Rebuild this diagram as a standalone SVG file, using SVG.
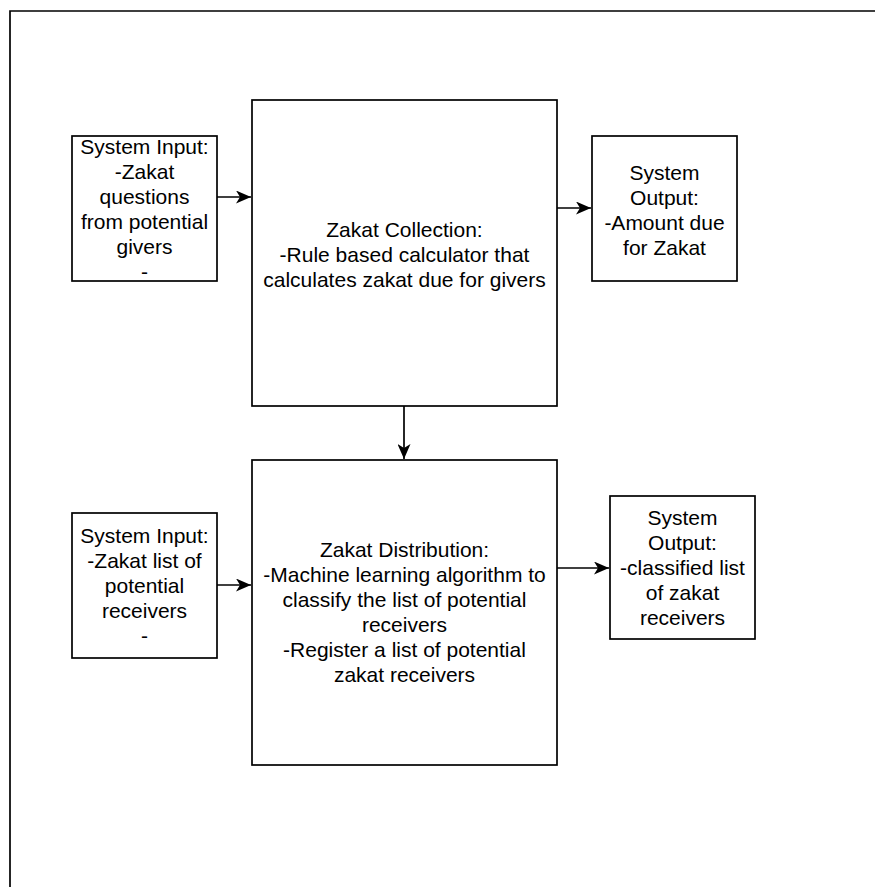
<svg xmlns="http://www.w3.org/2000/svg" width="875" height="887" viewBox="0 0 875 887">
<defs>
<style>
.box{fill:#fff;stroke:#000;stroke-width:1.7}
.frame{fill:none;stroke:#000;stroke-width:1.7}
.edge{fill:none;stroke:#000;stroke-width:1.7}
text{font-family:"Liberation Sans",Arial,sans-serif;font-size:21px;fill:#000;text-anchor:middle}
</style>
<marker id="arr" markerUnits="userSpaceOnUse" viewBox="0 0 15 13" refX="15" refY="6.5" markerWidth="15" markerHeight="13" orient="auto">
<path d="M0,0 L15,6.5 L0,13 L4,6.5 Z" fill="#000"/>
</marker>
</defs>
<rect width="875" height="887" fill="#fff"/>
<path class="frame" d="M10,900 V11 H900"/>
<g id="input1">
<rect class="box" x="72" y="136" width="145" height="145"/>
<text x="144.5" y="154">System Input:</text>
<text x="144.5" y="179">-Zakat</text>
<text x="144.5" y="204">questions</text>
<text x="144.5" y="229">from potential</text>
<text x="144.5" y="254">givers</text>
<text x="144.5" y="279">-</text>
</g>
<g id="collection">
<rect class="box" x="252" y="100" width="305" height="306"/>
<text x="404.5" y="237">Zakat Collection:</text>
<text x="404.5" y="262">-Rule based calculator that</text>
<text x="404.5" y="287">calculates zakat due for givers</text>
</g>
<g id="output1">
<rect class="box" x="592" y="136" width="145" height="145"/>
<text x="664.5" y="180">System</text>
<text x="664.5" y="205">Output:</text>
<text x="664.5" y="230">-Amount due</text>
<text x="664.5" y="255">for Zakat</text>
</g>
<g id="input2">
<rect class="box" x="72" y="513" width="145" height="145"/>
<text x="144.5" y="543">System Input:</text>
<text x="144.5" y="568">-Zakat list of</text>
<text x="144.5" y="593">potential</text>
<text x="144.5" y="618">receivers</text>
<text x="144.5" y="643">-</text>
</g>
<g id="distribution">
<rect class="box" x="252" y="460" width="305" height="305"/>
<text x="404.5" y="557">Zakat Distribution:</text>
<text x="404.5" y="582">-Machine learning algorithm to</text>
<text x="404.5" y="607">classify the list of potential</text>
<text x="404.5" y="632">receivers</text>
<text x="404.5" y="657">-Register a list of potential</text>
<text x="404.5" y="682">zakat receivers</text>
</g>
<g id="output2">
<rect class="box" x="610" y="496" width="145" height="143"/>
<text x="682.5" y="525">System</text>
<text x="682.5" y="550">Output:</text>
<text x="682.5" y="575">-classified list</text>
<text x="682.5" y="600">of zakat</text>
<text x="682.5" y="625">receivers</text>
</g>
<g id="connectors">
<path class="edge" d="M217,197 H251" marker-end="url(#arr)"/>
<path class="edge" d="M557,208 H591" marker-end="url(#arr)"/>
<path class="edge" d="M404,406 V459" marker-end="url(#arr)"/>
<path class="edge" d="M217,585 H251" marker-end="url(#arr)"/>
<path class="edge" d="M557,568 H609" marker-end="url(#arr)"/>
</g>
</svg>
